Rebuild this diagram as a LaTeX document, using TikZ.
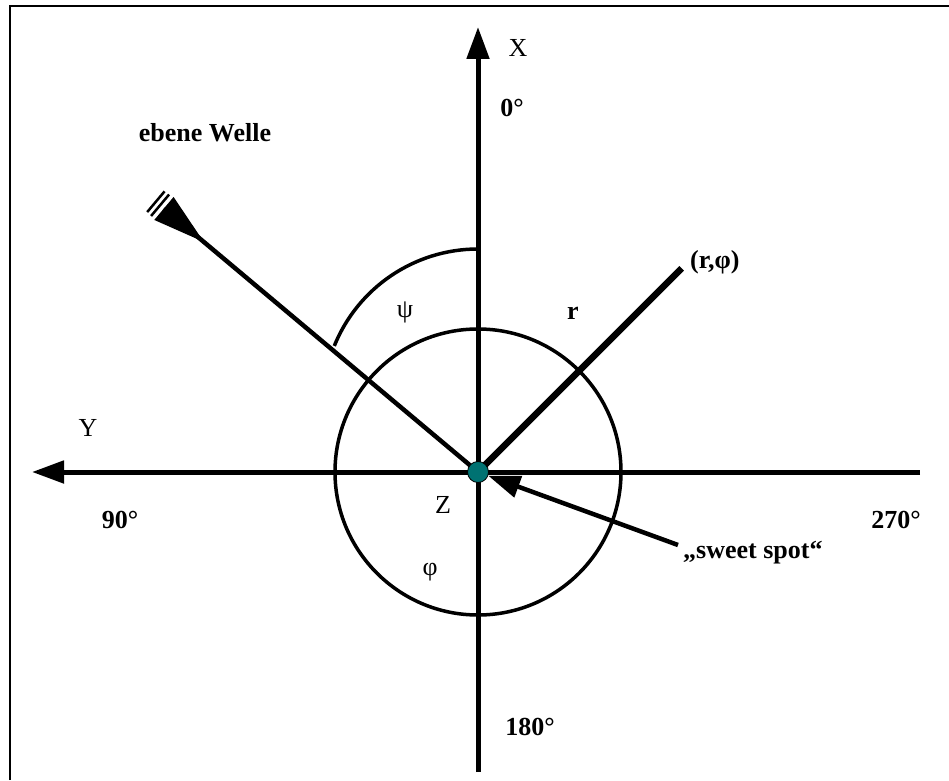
\documentclass[tikz,border=0pt]{standalone}
\usepackage{fontspec}
\setmainfont{Liberation Serif}
\usetikzlibrary{arrows.meta, calc}
\definecolor{spotteal}{HTML}{007272}

\begin{document}
\begin{tikzpicture}[x=1pt, y=1pt, font=\fontsize{26}{30}\selectfont,
    axis/.style={line width=5pt},
    bigtip/.style={-{Triangle[length=32pt,width=22pt]}},
    lbl/.style={font=\fontsize{26}{30}\selectfont\bfseries, inner sep=0pt},
    plain/.style={font=\fontsize{26}{30}\selectfont, inner sep=0pt}]
  \useasboundingbox (0,0) rectangle (949,780);
  % Rahmen
  \draw[line width=2.5pt] (10,0) -- (10,774) -- (949,774);

  % Koordinaten
  \coordinate (O) at (478,308);
  \coordinate (xtip) at (478,753);
  \coordinate (xbot) at (478,8);
  \coordinate (ytip) at (32,308);
  \coordinate (yend) at (920,308);
  \coordinate (we) at ($(O)+(140:410)$);
  \coordinate (rend) at ($(O)+(45:288)$);
  \coordinate (sstail) at (678,235);
  \coordinate (psitop) at (478,531);

  % Achsen
  \draw[axis, bigtip] (xbot) -- (xtip);
  \draw[axis, bigtip] (yend) -- (ytip);

  % ebene Welle
  \draw[line width=4.5pt] (O) -- (we);
  \begin{scope}[shift={(we)}, rotate=140]
    \fill (0,15) -- (0,-15) -- (-52,0) -- cycle;
    \draw[line width=2.5pt] (5,-14) -- (5,14) (10.5,-13.5) -- (10.5,13.5);
  \end{scope}

  % Kreis und Winkelbogen
  \draw[line width=3.5pt] (O) circle[radius=143];
  \draw[line width=3.5pt] (psitop) arc[start angle=90, end angle=158, radius=155];

  % Radius
  \draw[line width=6.5pt] (O) -- (rend);

  % sweet spot
  \node[circle, fill=spotteal, draw=black, line width=0.8pt, minimum size=21pt, inner sep=0pt] (spot) at (O) {};
  \draw[line width=4.5pt, bigtip] (sstail) -- (spot);

  % Beschriftungen
  \node[plain] (xlbl) at (518,732) {X};
  \node[lbl] (deg0) at (512,672) {0°};
  \node[lbl] (welle) at (205,647) {ebene Welle};
  \node[plain] (psi) at (405,468) {ψ};
  \node[lbl, anchor=west] (rphi) at (690,518) {(r,φ)};
  \node[lbl] (rlbl) at (573,467) {r};
  \node[plain] (ylbl) at (88,352) {Y};
  \node[lbl] (deg90) at (120,260) {90°};
  \node[plain] (zlbl) at (443,275) {Z};
  \node[lbl] (deg270) at (896,260) {270°};
  \node[lbl, anchor=west] (sweet) at (683,227) {„sweet spot“};
  \node[plain] (phi) at (430,208) {φ};
  \node[lbl] (deg180) at (530,53) {180°};
\end{tikzpicture}
\end{document}
